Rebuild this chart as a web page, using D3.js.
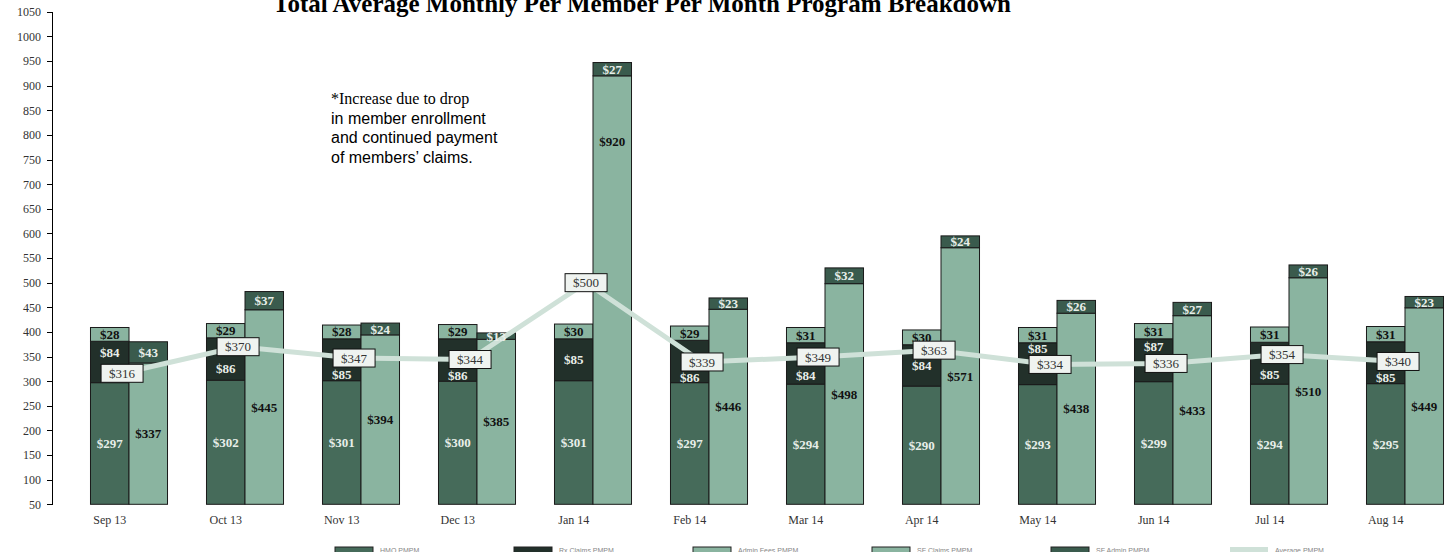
<!DOCTYPE html>
<html lang="en">
<head>
    <meta charset="UTF-8">
    <title>PMPM Program Breakdown</title>
    <script src="https://d3js.org/d3.v7.min.js"></script>
    <style>
        body { margin: 0; background: #fff; }
        .axis path, .axis line { fill: none; stroke: #000; shape-rendering: crispEdges; }
        .xlab { font-family: "Liberation Serif", serif; font-size: 12px; fill: #333; }
        .title { font-family: "Liberation Serif", serif; font-size: 25px; font-weight: bold; fill: #000; }
        .seglabel { font-family: "Liberation Serif", serif; font-size: 13px; font-weight: bold; }
        .avglabel { font-family: "Liberation Serif", serif; font-size: 13px; fill: #333; }
        .note { font-size: 16px; fill: #000; }
        .legend text { font-family: "Liberation Sans", sans-serif; font-size: 7px; fill: #888; }
    </style>
</head>
<body>
<div id="chart"></div>
<script>
    // values
    var months = ["Sep 13", "Oct 13", "Nov 13", "Dec 13", "Jan 14", "Feb 14",
                  "Mar 14", "Apr 14", "May 14", "Jun 14", "Jul 14", "Aug 14"];
    var medical  = [297, 302, 301, 300, 301, 297, 294, 290, 293, 299, 294, 295];
    var pharmacy = [84, 86, 85, 86, 85, 86, 84, 84, 85, 87, 85, 85];
    var adminA   = [28, 29, 28, 29, 30, 29, 31, 30, 31, 31, 31, 31];
    var claimsB  = [337, 445, 394, 385, 920, 446, 498, 571, 438, 433, 510, 449];
    var adminB   = [43, 37, 24, 13, 27, 23, 32, 24, 26, 27, 26, 23];
    var average  = [316, 370, 347, 344, 500, 339, 349, 363, 334, 336, 354, 340];
    var yTicks   = d3.range(50, 1051, 50);
    var legendNames = ["HMO PMPM", "Rx Claims PMPM", "Admin Fees PMPM",
                       "SF Claims PMPM", "SF Admin PMPM", "Average PMPM"];
    var note = ["*Increase due to drop", "in member enrollment",
                "and continued payment", "of members\u2019 claims."];

    var W = 1452, H = 552;
    var cMid = "#466b5a", cDark = "#22302a", cLight = "#8ab4a0", cTop = "#3a5b4d", cLine = "#cfe1d8";

    var svg = d3.select("#chart").append("svg")
        .attr("width", W).attr("height", H);

    var x = d3.scaleBand().domain(months).range([71, 1463])
        .paddingInner(0.336).paddingOuter(0.168);
    var sub = d3.scaleBand().domain([0, 1]).range([0, x.bandwidth()]);
    var y = d3.scaleLinear().domain([50, 1050]).range([504.3, 11.8]);

    // title (top is cut off in the original)
    svg.append("text").attr("class", "title")
        .attr("x", 642).attr("y", 12).attr("text-anchor", "middle")
        .text("Total Average Monthly Per Member Per Month Program Breakdown");

    // y axis
    var yAxis = svg.append("g").attr("class", "axis")
        .attr("transform", "translate(52,0)")
        .call(d3.axisLeft(y).tickValues(yTicks).tickFormat(d3.format("d"))
            .tickSize(5).tickSizeOuter(0).tickPadding(6));
    yAxis.selectAll("text")
        .attr("fill", "#333")
        .style("font-family", "Liberation Serif, serif")
        .style("font-size", "12px");

    // x labels (centered under first bar of each group)
    svg.append("g").selectAll("text").data(months).enter().append("text")
        .attr("class", "xlab")
        .attr("x", function (d) { return x(d) + sub.bandwidth() / 2; })
        .attr("y", 524)
        .attr("text-anchor", "middle")
        .text(function (d) { return d; });

    // build segments
    var segs = [];
    months.forEach(function (m, i) {
        var a = [[medical[i], cMid, "#e8eee9", "mid"], [pharmacy[i], cDark, "#e8eee9", "ph"], [adminA[i], cLight, "#111", "ad"]];
        var b = [[claimsB[i], cLight, "#111", "cl"], [adminB[i], cTop, "#e8eee9", "ad2"]];
        [a, b].forEach(function (stack, k) {
            var base = 0;
            stack.forEach(function (s) {
                segs.push({ m: m, i: i, k: k, y0: base, y1: base + s[0], v: s[0], fill: s[1], tc: s[2], key: s[3] });
                base += s[0];
            });
        });
    });

    svg.append("g").selectAll("rect").data(segs).enter().append("rect")
        .attr("x", function (d) { return x(d.m) + sub(d.k); })
        .attr("width", sub.bandwidth())
        .attr("y", function (d) { return y(d.y1); })
        .attr("height", function (d) { return y(Math.max(50, d.y0)) - y(d.y1); })
        .attr("fill", function (d) { return d.fill; })
        .attr("stroke", "#1a1a1a").attr("stroke-width", 1);

    // average line
    var lx = function (i) { return x(months[i]) + x.bandwidth() * 0.41; };
    var line = d3.line().x(function (d, i) { return lx(i); }).y(function (d) { return y(d); });
    svg.append("path").datum(average)
        .attr("d", line).attr("fill", "none")
        .attr("stroke", cLine).attr("stroke-width", 5);

    // segment labels, moved off the average box when they would sit under it
    svg.append("g").selectAll("text").data(segs).enter().append("text")
        .attr("class", "seglabel")
        .attr("x", function (d) { return x(d.m) + sub(d.k) + sub.bandwidth() / 2; })
        .attr("y", function (d) {
            var top = y(d.y1), bot = y(Math.max(50, d.y0));
            var cy = (top + bot) / 2;
            var ly = y(average[d.i]);
            if ((d.key === "ph" || d.key === "cl") && Math.abs(cy - ly) < 15) {
                var up = (ly - 10) - top, dn = bot - (ly + 10);
                if (up > 60) cy = top + up / 3;
                else if (up > dn + 1) cy = top + up / 2;
                else cy = ly + 10 + dn / 2;
            }
            return cy;
        })
        .attr("dy", "0.35em").attr("text-anchor", "middle")
        .attr("fill", function (d) { return d.tc; })
        .text(function (d) { return "$" + d.v; });

    // average labels
    var al = svg.append("g").selectAll("g").data(average).enter().append("g")
        .attr("transform", function (d, i) { return "translate(" + lx(i) + "," + y(d) + ")"; });
    al.append("rect").attr("x", -21).attr("y", -9).attr("width", 42).attr("height", 18)
        .attr("fill", "#eff3f0").attr("stroke", "#111").attr("stroke-width", 1);
    al.append("text").attr("class", "avglabel").attr("text-anchor", "middle").attr("dy", "0.35em")
        .text(function (d) { return "$" + d; });

    // annotation
    svg.append("g").selectAll("text").data(note).enter().append("text")
        .attr("class", "note")
        .attr("x", 331)
        .attr("y", function (d, i) { return 104 + i * 19.5; })
        .style("font-family", function (d, i) { return i === 0 ? "Liberation Serif, serif" : "Liberation Sans, sans-serif"; })
        .text(function (d) { return d; });

    // legend (cut by the bottom edge as in the original)
    var legColors = [cMid, cDark, cLight, cLight, cTop, cLine];
    var lg = svg.append("g").attr("class", "legend").selectAll("g").data(legendNames).enter().append("g")
        .attr("transform", function (d, i) { return "translate(" + (335 + i * 179) + ",547)"; });
    lg.append("rect").attr("width", 38).attr("height", 10)
        .attr("fill", function (d, i) { return legColors[i]; })
        .attr("stroke", function (d, i) { return i === 5 ? "none" : "#222"; });
    lg.append("text").attr("x", 45).attr("y", 6).text(function (d) { return d; });
</script>
</body>
</html>
